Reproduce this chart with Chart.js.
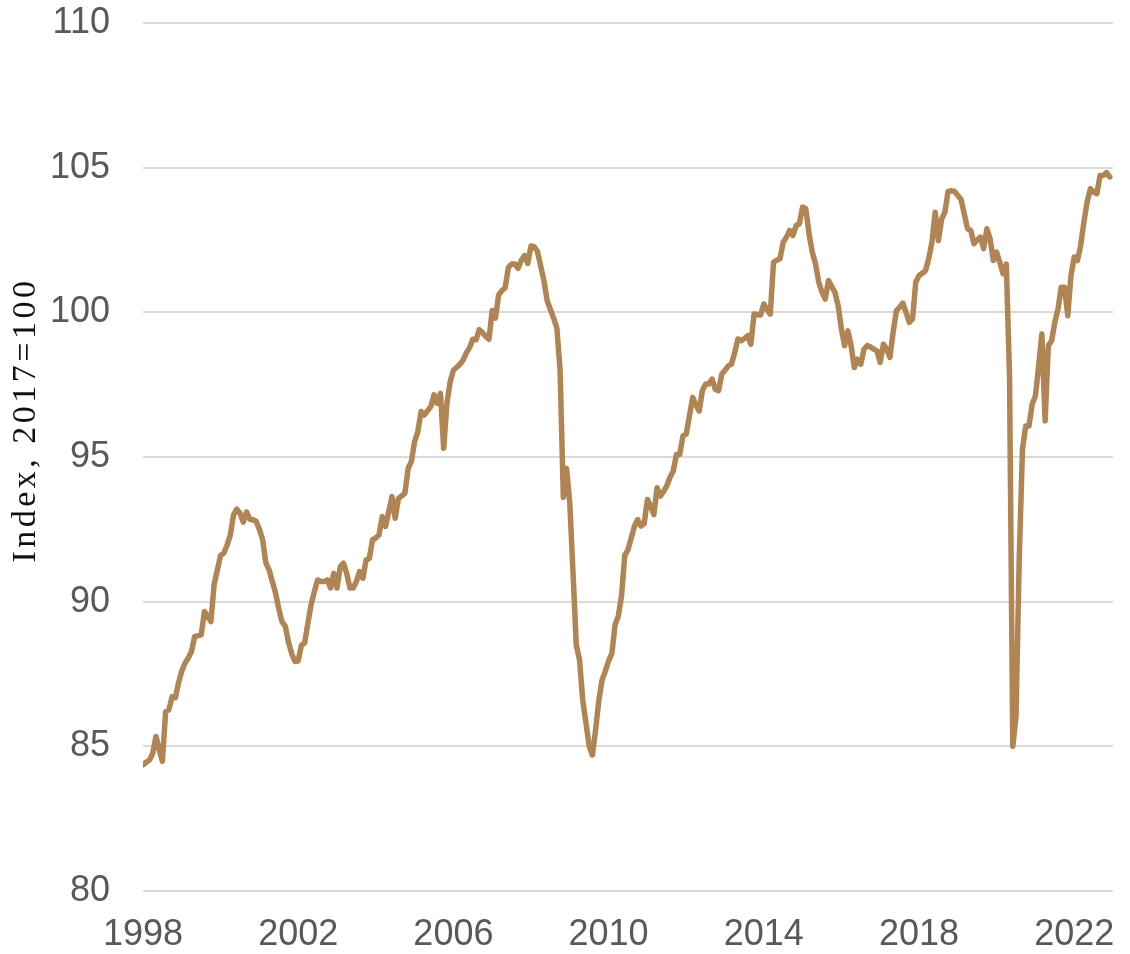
<!DOCTYPE html>
<html>
<head>
<meta charset="utf-8">
<title>Industrial production index</title>
<script src="https://cdn.jsdelivr.net/npm/chart.js@4.4.1/dist/chart.umd.min.js"></script>
<style>
  html, body { margin: 0; padding: 0; background: #fff; }
  #wrap { width: 1130px; height: 954px; }
</style>
</head>
<body>
<div id="wrap"><canvas id="chart" width="1130" height="954"></canvas></div>
<script>
// monthly series, Jan 1998 .. Dec 2022 (one row per year)
const startYear = 1998;
const indexValues = [
  84.36, 84.45, 84.53, 84.75, 85.34, 84.9, 84.48, 86.2, 86.26, 86.72, 86.68, 87.2,
  87.6, 87.88, 88.05, 88.28, 88.8, 88.82, 88.85, 89.66, 89.5, 89.31, 90.6, 91.1,
  91.6, 91.68, 91.95, 92.3, 93.0, 93.2, 93.05, 92.75, 93.1, 92.85, 92.83, 92.77,
  92.5, 92.14, 91.34, 91.1, 90.7, 90.3, 89.75, 89.3, 89.15, 88.6, 88.2, 87.93,
  87.95, 88.5, 88.57, 89.26, 89.9, 90.35, 90.75, 90.7, 90.7, 90.75, 90.47, 90.98,
  90.47, 91.21, 91.33, 90.98, 90.47, 90.47, 90.7, 91.04, 90.81, 91.44, 91.5, 92.14,
  92.2, 92.31, 92.94, 92.6, 93.1, 93.63, 92.88, 93.57, 93.65, 93.75, 94.61, 94.84,
  95.53, 95.88, 96.57, 96.45, 96.6, 96.74, 97.15, 96.86, 97.2, 95.3, 96.86, 97.6,
  98.0, 98.1, 98.2, 98.35, 98.6, 98.78, 99.07, 99.05, 99.4, 99.3, 99.17, 99.07,
  100.06, 99.8, 100.6, 100.75, 100.85, 101.55, 101.67, 101.67, 101.52, 101.8, 101.96, 101.69,
  102.29, 102.27, 102.1, 101.6, 101.1, 100.4, 100.1, 99.8, 99.45, 98.0, 93.6, 94.6,
  93.4, 91.0, 88.5, 88.0, 86.6, 85.8, 85.0, 84.7, 85.6, 86.6, 87.3, 87.6,
  87.95, 88.2, 89.2, 89.5, 90.2, 91.6, 91.8, 92.2, 92.61, 92.84, 92.61, 92.7,
  93.53, 93.3, 93.01, 93.94, 93.65, 93.8, 94.0, 94.3, 94.52, 95.09, 95.09, 95.73,
  95.79, 96.42, 97.06, 96.8, 96.59, 97.29, 97.52, 97.52, 97.69, 97.34, 97.29, 97.86,
  98.0, 98.15, 98.21, 98.6, 99.08, 99.02, 99.1, 99.19, 98.9, 99.94, 99.92, 99.91,
  100.29, 100.1, 99.94, 101.73, 101.8, 101.85, 102.42, 102.6, 102.83, 102.66, 103.0, 103.06,
  103.64, 103.58, 102.71, 102.08, 101.67, 101.04, 100.7, 100.46, 101.1, 100.9, 100.69, 100.23,
  99.42, 98.85, 99.36, 98.85, 98.09, 98.38, 98.21, 98.73, 98.85, 98.8, 98.73, 98.67,
  98.27, 98.9, 98.73, 98.44, 99.31, 100.06, 100.17, 100.32, 100.0, 99.65, 99.77, 101.04,
  101.27, 101.35, 101.44, 101.85, 102.42, 103.46, 102.48, 103.23, 103.46, 104.18, 104.2, 104.18,
  104.04, 103.9, 103.4, 102.89, 102.83, 102.37, 102.5, 102.6, 102.2, 102.89, 102.54, 101.79,
  102.08, 101.73, 101.33, 101.67, 97.8, 85.0, 86.03, 91.5, 95.27, 96.07, 96.07, 96.82,
  97.11, 98.15, 99.25, 96.25, 98.85, 99.02, 99.65, 100.12, 100.87, 100.87, 99.88, 101.27,
  101.91, 101.79, 102.31, 103.12, 103.81, 104.27, 104.16, 104.1, 104.73, 104.73, 104.83, 104.68
];
const tickYears = ['1998', '2002', '2006', '2010', '2014', '2018', '2022'];
const yTickValues = [80, 85, 90, 95, 100, 105, 110];
const axisTitle = 'Index, 2017=100';

const lineColor = '#B08453';
const tickColor = '#595959';
const gridColor = '#d9d9d9';

// x = months since Jan of startYear
const points = indexValues.map((v, i) => ({ x: i, y: v }));

const titlePlugin = {
  id: 'sideTitle',
  afterDraw(chart) {
    const ctx = chart.ctx;
    ctx.save();
    ctx.translate(35, 420);
    ctx.rotate(-Math.PI / 2);
    ctx.font = '34px "Liberation Serif", "Times New Roman", serif';
    if ('letterSpacing' in ctx) ctx.letterSpacing = '3.5px';
    ctx.fillStyle = '#111';
    ctx.textAlign = 'center';
    ctx.textBaseline = 'alphabetic';
    ctx.fillText(axisTitle, 0, 0);
    ctx.restore();
  }
};

new Chart(document.getElementById('chart'), {
  type: 'line',
  data: {
    datasets: [{
      data: points,
      borderColor: lineColor,
      borderWidth: 5.5,
      pointRadius: 0,
      tension: 0,
      borderJoinStyle: 'round',
      borderCapStyle: 'round',
      fill: false
    }]
  },
  options: {
    responsive: false,
    animation: false,
    devicePixelRatio: 1,
    layout: { padding: { top: 23, right: 17, bottom: 0, left: 0 } },
    plugins: { legend: { display: false }, tooltip: { enabled: false } },
    scales: {
      x: {
        type: 'linear',
        min: 0,
        max: 300,
        grid: { display: false, drawTicks: false },
        border: { display: false },
        afterBuildTicks: (scale) => {
          scale.ticks = tickYears.map(y => ({ value: (Number(y) - startYear) * 12 }));
        },
        afterFit: (scale) => {
          scale.height = 63;
          scale.paddingLeft = 0;
          scale.paddingRight = 0;
        },
        ticks: {
          autoSkip: false,
          maxRotation: 0,
          padding: 22,
          color: tickColor,
          font: { family: '"Liberation Sans", Arial, sans-serif', size: 36 },
          callback: (value) => {
            const i = tickYears.findIndex(y => (Number(y) - startYear) * 12 === value);
            return i >= 0 ? tickYears[i] : '';
          }
        }
      },
      y: {
        min: yTickValues[0],
        max: yTickValues[yTickValues.length - 1],
        grid: { color: gridColor, lineWidth: 2, drawTicks: false },
        border: { display: false },
        afterBuildTicks: (scale) => {
          scale.ticks = yTickValues.map(v => ({ value: v }));
        },
        afterFit: (scale) => {
          scale.width = 143;
          scale.paddingTop = 0;
          scale.paddingBottom = 0;
        },
        ticks: {
          padding: 33,
          color: tickColor,
          font: { family: '"Liberation Sans", Arial, sans-serif', size: 36 }
        }
      }
    }
  },
  plugins: [titlePlugin]
});
</script>
</body>
</html>
